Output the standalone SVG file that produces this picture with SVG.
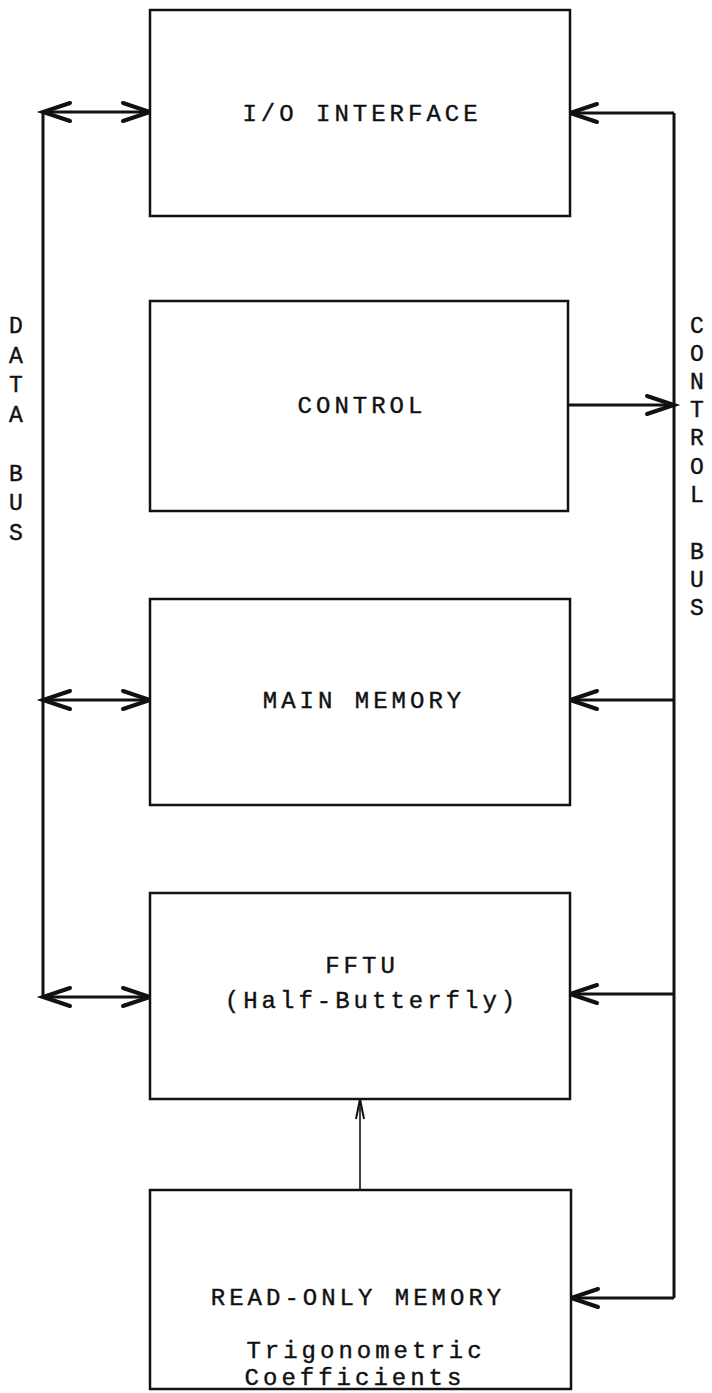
<svg xmlns="http://www.w3.org/2000/svg" width="712" height="1393" viewBox="0 0 712 1393">
<style>
.box{fill:#fff;stroke:#111;stroke-width:2.5}
.lbl{font-family:"Liberation Mono",monospace;font-size:24px;letter-spacing:4px;fill:#111;stroke:#111;stroke-width:0.4;text-anchor:middle}
.bus{font-family:"Liberation Mono",monospace;font-size:23px;fill:#111;stroke:#111;stroke-width:0.4;text-anchor:middle}
.ln{fill:none;stroke:#111;stroke-width:3}
.thin{fill:none;stroke:#111;stroke-width:1.6}
</style>
<defs>
<marker id="ah" markerUnits="userSpaceOnUse" markerWidth="34" markerHeight="26" refX="30" refY="13" orient="auto-start-reverse" overflow="visible">
<path d="M3,4 L30,13 L3,22" fill="none" stroke="#111" stroke-width="4" stroke-linecap="round" stroke-linejoin="miter"/>
</marker>
<marker id="ahs" markerUnits="userSpaceOnUse" markerWidth="26" markerHeight="14" refX="22" refY="7" orient="auto" overflow="visible">
<path d="M2,3 L22,7 L2,11" fill="none" stroke="#111" stroke-width="2"/>
</marker>
</defs>
<g id="connectors">
<line class="ln" x1="43" y1="112" x2="43" y2="997"/>
<line class="ln" x1="674" y1="113" x2="674" y2="1298"/>
<line class="ln" x1="43" y1="112" x2="150" y2="112" marker-start="url(#ah)" marker-end="url(#ah)"/>
<line class="ln" x1="43" y1="700" x2="150" y2="700" marker-start="url(#ah)" marker-end="url(#ah)"/>
<line class="ln" x1="43" y1="997" x2="150" y2="997" marker-start="url(#ah)" marker-end="url(#ah)"/>
<line class="ln" x1="674" y1="113" x2="570" y2="113" marker-end="url(#ah)"/>
<line class="ln" x1="568" y1="405" x2="674" y2="405" marker-end="url(#ah)"/>
<line class="ln" x1="674" y1="700" x2="570" y2="700" marker-end="url(#ah)"/>
<line class="ln" x1="674" y1="994" x2="570" y2="994" marker-end="url(#ah)"/>
<line class="ln" x1="674" y1="1298" x2="571" y2="1298" marker-end="url(#ah)"/>
<line class="thin" x1="360" y1="1190" x2="360" y2="1099" marker-end="url(#ahs)"/>
</g>
<g id="io">
<rect class="box" x="150" y="10" width="420" height="206"/>
<text class="lbl" x="362" y="121">I/O INTERFACE</text>
</g>
<g id="control">
<rect class="box" x="150" y="301" width="418" height="210"/>
<text class="lbl" x="362" y="413">CONTROL</text>
</g>
<g id="main-memory">
<rect class="box" x="150" y="599" width="420" height="206"/>
<text class="lbl" x="364" y="708">MAIN MEMORY</text>
</g>
<g id="fftu">
<rect class="box" x="150" y="893" width="420" height="206"/>
<text class="lbl" x="362" y="973">FFTU</text>
<text class="lbl" x="372" y="1008">(Half-Butterfly)</text>
</g>
<g id="rom">
<rect class="box" x="150" y="1190" width="421" height="199"/>
<text class="lbl" x="358" y="1305">READ-ONLY MEMORY</text>
<text class="lbl" x="366" y="1358">Trigonometric</text>
<text class="lbl" x="355" y="1385">Coefficients</text>
</g>
<g id="data-bus-label">
<text class="bus" x="16" y="333">D</text>
<text class="bus" x="16" y="363">A</text>
<text class="bus" x="16" y="392">T</text>
<text class="bus" x="16" y="422">A</text>
<text class="bus" x="16" y="481">B</text>
<text class="bus" x="16" y="510">U</text>
<text class="bus" x="16" y="540">S</text>
</g>
<g id="control-bus-label">
<text class="bus" x="697" y="333">C</text>
<text class="bus" x="697" y="361">O</text>
<text class="bus" x="697" y="389">N</text>
<text class="bus" x="697" y="417">T</text>
<text class="bus" x="697" y="445">R</text>
<text class="bus" x="697" y="474">O</text>
<text class="bus" x="697" y="502">L</text>
<text class="bus" x="697" y="559">B</text>
<text class="bus" x="697" y="587">U</text>
<text class="bus" x="697" y="615">S</text>
</g>
</svg>
